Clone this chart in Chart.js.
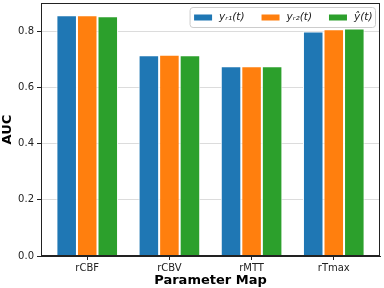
<!DOCTYPE html>
<html>
<head>
<meta charset="utf-8">
<script src="https://cdn.jsdelivr.net/npm/chart.js@4/dist/chart.umd.min.js"></script>
<style>
  html, body { margin: 0; padding: 0; background: #fff; }
  #wrap { width: 384px; height: 288px; }
</style>
</head>
<body>
<div id="wrap"><canvas id="chart" width="384" height="288"></canvas></div>
<script>
  // --- data ---
  const MAPS = ['rCBF', 'rCBV', 'rMTT', 'rTmax'];
  const Y_R1 = [0.856, 0.714, 0.675, 0.799];
  const Y_R2 = [0.856, 0.716, 0.675, 0.807];
  const Y_HAT = [0.853, 0.714, 0.675, 0.809];
  const Y_TICKS = [0.0, 0.2, 0.4, 0.6, 0.8];

  const SERIES_NAMES = ['y\u1D63\u2081(t)', 'y\u1D63\u2082(t)', '\u0177(t)'];
  const COLORS = ['#1f77b4', '#ff7f0e', '#2ca02c'];

  const FONT = "'DejaVu Sans', sans-serif";
  Chart.defaults.font.family = FONT;
  Chart.defaults.color = '#222';

  const toPoints = arr => arr.map((v, i) => ({ x: i, y: v }));

  // axes frame (all four spines)
  const framePlugin = {
    id: 'frame',
    afterDatasetsDraw(chart) {
      const { ctx, chartArea: a } = chart;
      ctx.save();
      ctx.strokeStyle = '#222';
      ctx.lineWidth = 1;
      ctx.strokeRect(a.left + 0.5, a.top + 0.5, a.right - a.left - 1, a.bottom - a.top - 1);
      ctx.restore();
    }
  };

  // matplotlib-like legend in the upper right corner of the plot
  const legendPlugin = {
    id: 'innerLegend',
    afterDraw(chart) {
      const { ctx, chartArea: a } = chart;
      const sets = chart.data.datasets;
      const boxW = 18, boxH = 6, gap = 7, between = 17, padL = 4, padR = 3;
      ctx.save();
      ctx.font = "italic 10.5px 'DejaVu Sans'";
      const widths = sets.map(d => ctx.measureText(d.label).width);
      const total = padL + padR + widths.reduce((s, w) => s + boxW + gap + w, 0) + between * (sets.length - 1);
      const right = a.right - 5;
      const left = right - total;
      const top = a.top + 4, h = 20;
      ctx.fillStyle = 'rgba(255,255,255,0.8)';
      ctx.strokeStyle = '#cccccc';
      ctx.lineWidth = 1;
      ctx.beginPath();
      ctx.roundRect(left + 0.5, top + 0.5, total, h, 3);
      ctx.fill();
      ctx.stroke();
      let x = left + padL + 0.5;
      const cy = top + h / 2 + 0.5;
      ctx.textBaseline = 'middle';
      sets.forEach((d, i) => {
        ctx.fillStyle = d.backgroundColor;
        ctx.fillRect(x, cy - boxH / 2, boxW, boxH);
        x += boxW + gap;
        ctx.fillStyle = '#222';
        ctx.fillText(d.label, x, cy);
        x += widths[i] + between;
      });
      ctx.restore();
    }
  };

  new Chart(document.getElementById('chart'), {
    type: 'bar',
    data: {
      datasets: [Y_R1, Y_R2, Y_HAT].map((vals, i) => ({
        label: SERIES_NAMES[i],
        data: toPoints(vals),
        backgroundColor: COLORS[i],
        borderColor: '#fff',
        borderWidth: 1,
        borderSkipped: 'bottom',
        categoryPercentage: 0.75,
        barPercentage: 1.0
      }))
    },
    options: {
      responsive: false,
      animation: false,
      layout: { padding: { top: 3, right: 4, left: 0, bottom: 0 } },
      plugins: {
        tooltip: { enabled: false },
        legend: { display: false }
      },
      scales: {
        x: {
          type: 'linear',
          offset: false,
          min: -0.5625,
          max: 3.5625,
          afterBuildTicks: s => { s.ticks = MAPS.map((_, i) => ({ value: i })); },
          afterFit: s => { s.height = 32; s.paddingLeft = 0; s.paddingRight = 0; },
          ticks: {
            callback: v => MAPS[v],
            font: { size: 10 },
            padding: 2,
            color: '#222'
          },
          grid: { offset: false, drawOnChartArea: false, tickLength: 4, tickColor: '#222' },
          border: { color: '#222' },
          title: {
            display: true,
            text: 'Parameter Map',
            font: { size: 13, weight: 'bold' },
            color: '#000',
            padding: { top: 0, bottom: 0 }
          }
        },
        y: {
          min: 0,
          max: 0.9,
          afterBuildTicks: s => { s.ticks = Y_TICKS.map(v => ({ value: v })); },
          afterFit: s => { s.width = 41; s.paddingTop = 0; s.paddingBottom = 0; },
          ticks: {
            callback: v => v.toFixed(1),
            font: { size: 10 },
            padding: 3,
            color: '#222'
          },
          grid: { color: '#dcdcdc', tickLength: 4, tickColor: '#222' },
          border: { color: '#222' },
          title: {
            display: true,
            text: 'AUC',
            font: { size: 13, weight: 'bold' },
            color: '#000',
            padding: { top: 0, bottom: 2 }
          }
        }
      }
    },
    plugins: [framePlugin, legendPlugin]
  });
</script>
</body>
</html>
